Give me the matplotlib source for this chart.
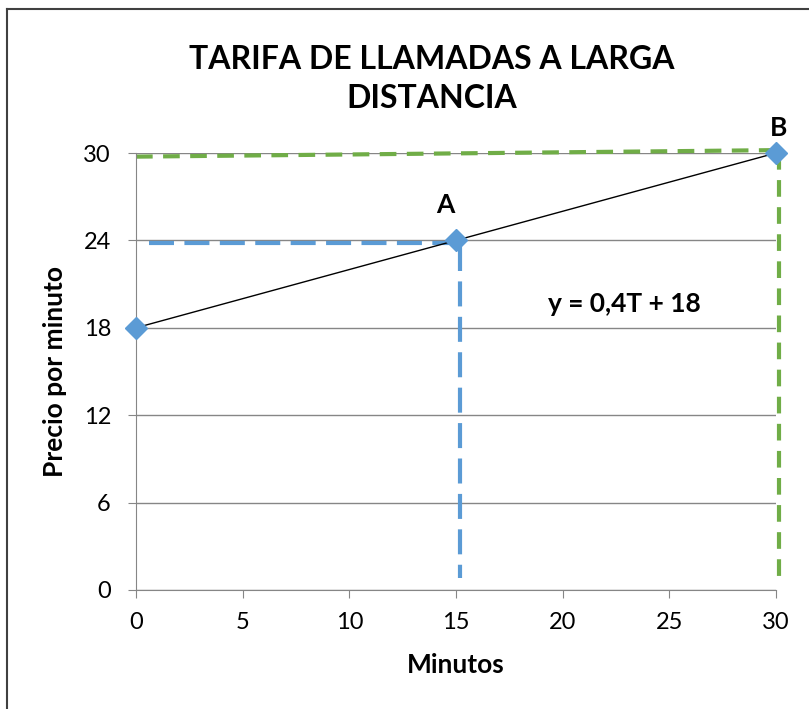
import numpy as np
import matplotlib.pyplot as plt
from matplotlib.lines import Line2D

# data
minutos = [0, 15, 30]
precio = [18, 24, 30]
puntos = ['', 'A', 'B']
xticks = [0, 5, 10, 15, 20, 25, 30]
yticks = [0, 6, 12, 18, 24, 30]

# guide lines (as drawn in the original)
azul_h_x = [0.6, 15.5]
azul_h_y = [23.8, 23.8]
azul_v_x = [15.2, 15.2]
azul_v_y = [23.6, 0.8]
verde_h_x = [0, 30.2]
verde_h_y = [29.75, 30.2]
verde_v_x = [30.15, 30.15]
verde_v_y = [30.0, 0.3]

azul = '#5B9BD5'
verde = '#70AD47'
gris = '#868686'

plt.rcParams['font.family'] = ['Lato', 'DejaVu Sans']

fig = plt.figure(figsize=(8.09, 7.09), dpi=100)
ax = fig.add_axes([136/809, 1 - 590/709, 640/809, 437/709])

ax.plot(azul_h_x, azul_h_y, color=azul, lw=3, dashes=(6, 2.5), zorder=2, clip_on=False)
ax.plot(azul_v_x, azul_v_y, color=azul, lw=3, dashes=(6, 2.5), zorder=2, clip_on=False)
ax.plot(verde_h_x, verde_h_y, color=verde, lw=3, dashes=(4, 2.5), zorder=2, clip_on=False)
ax.plot(verde_v_x, verde_v_y, color=verde, lw=3, dashes=(4, 2.5), zorder=2, clip_on=False)

ax.plot(minutos, precio, color='black', lw=1, zorder=3)
ax.plot(minutos, precio, ls='none', marker='D', markersize=11, color=azul, zorder=4, clip_on=False)

offsets = {'A': (-0.5, 2.4), 'B': (0.1, 1.7)}
for x, y, t in zip(minutos, precio, puntos):
    if t:
        dx, dy = offsets[t]
        ax.text(x + dx, y + dy, t, fontsize=19, fontweight='bold', ha='center', va='center')

ax.text(22.9, 19.6, 'y = 0,4T + 18', fontsize=19, fontweight='bold', ha='center', va='center')

ax.set_xlim(0, 30)
ax.set_ylim(0, 30)
ax.set_xticks(xticks)
ax.set_yticks(yticks)
ax.yaxis.grid(True, color=gris, lw=1)
ax.set_axisbelow(True)
for s in ['top', 'right']:
    ax.spines[s].set_visible(False)
for s in ['left', 'bottom']:
    ax.spines[s].set_color(gris)
ax.tick_params(axis='both', direction='out', length=6, color=gris, labelsize=17)
ax.tick_params(axis='y', pad=12)
ax.tick_params(axis='x', pad=10)

ax.set_xlabel('Minutos', fontsize=19, fontweight='bold', labelpad=14)
ax.set_ylabel('Precio por minuto', fontsize=19, fontweight='bold', labelpad=12)

fig.text(432/809, 1 - 79/709, 'TARIFA DE LLAMADAS A LARGA\nDISTANCIA', fontsize=23,
         fontweight='bold', ha='center', va='center', linespacing=1.45)

# chart border (top and left edges visible)
fig.add_artist(Line2D([7/809, 7/809], [0, 1 - 9/709], transform=fig.transFigure, color='#404040', lw=1.5))
fig.add_artist(Line2D([7/809, 1], [1 - 9/709, 1 - 9/709], transform=fig.transFigure, color='#404040', lw=1.5))

fig.savefig('out.png', dpi=100)
